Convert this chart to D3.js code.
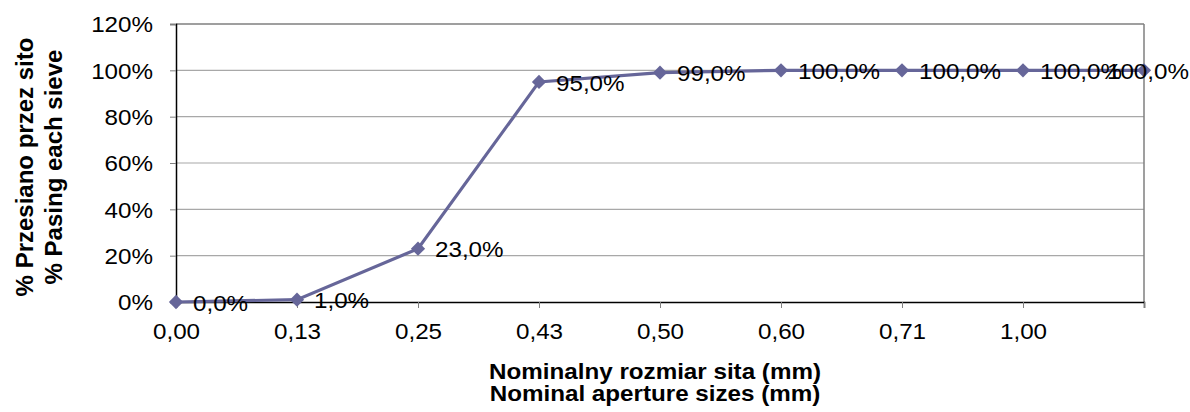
<!DOCTYPE html>
<html>
<head>
<meta charset="utf-8">
<script src="https://cdn.jsdelivr.net/npm/d3@7"></script>
<style>
  body { margin: 0; background: #fff; }
  text { font-family: "Liberation Sans", Arial, sans-serif; fill: #000; }
</style>
</head>
<body>
<div id="chart"></div>
<script>
// Sieve sizes (category labels), last one has no label
const sieveLabels = ["0,00", "0,13", "0,25", "0,43", "0,50", "0,60", "0,71", "1,00", ""];
// Percent passing each sieve
const passing = [0, 1, 23, 95, 99, 100, 100, 100, 100];
const yTicks = [0, 20, 40, 60, 80, 100, 120];

const width = 1190, height = 412;
const margin = { top: 24, right: 46, bottom: 110, left: 176 };
const plotW = width - margin.left - margin.right;
const plotH = height - margin.top - margin.bottom;
// the original picture is a little wider than tall, text looks stretched
const stretch = 1.1;

const svg = d3.select("#chart").append("svg")
  .attr("width", width)
  .attr("height", height);

const g = svg.append("g").attr("transform", `translate(${margin.left},${margin.top})`);

const idx = d3.range(sieveLabels.length);
const x = d3.scalePoint().domain(idx).range([0, plotW]);
const y = d3.scaleLinear().domain([0, 120]).range([plotH, 0]);

// gridlines
g.selectAll(".grid").data(yTicks.filter(d => d > 0 && d < 120)).enter()
  .append("line")
  .attr("x1", 0).attr("x2", plotW)
  .attr("y1", d => y(d)).attr("y2", d => y(d))
  .attr("stroke", "#a8a8a8").attr("stroke-width", 1.2);

// top and right border
g.append("line").attr("x1", 0).attr("x2", plotW).attr("y1", y(120)).attr("y2", y(120))
  .attr("stroke", "#7f7f7f").attr("stroke-width", 1.5);
g.append("line").attr("x1", plotW).attr("x2", plotW).attr("y1", 0).attr("y2", plotH)
  .attr("stroke", "#7f7f7f").attr("stroke-width", 1.5);

// y axis
const yAxis = g.append("g")
  .call(d3.axisLeft(y).tickValues(yTicks).tickSize(6).tickPadding(0).tickFormat(d => d + "%"));
yAxis.select(".domain").attr("stroke", "#000").attr("stroke-width", 1.5);
yAxis.selectAll(".tick line").attr("stroke", "#7f7f7f");
yAxis.selectAll("text")
  .attr("font-size", 22).attr("font-family", "Liberation Sans, Arial, sans-serif")
  .attr("x", 0).attr("dy", "0.35em")
  .attr("transform", `translate(-23,0) scale(${stretch},1)`);

// x axis
const xAxis = g.append("g")
  .attr("transform", `translate(0,${plotH})`)
  .call(d3.axisBottom(x).tickSize(6).tickPadding(15).tickFormat(i => sieveLabels[i]));
xAxis.select(".domain").attr("stroke", "#000").attr("stroke-width", 1.5);
xAxis.selectAll(".tick line").attr("stroke", "#7f7f7f");
xAxis.selectAll("text")
  .attr("font-size", 22).attr("font-family", "Liberation Sans, Arial, sans-serif")
  .attr("transform", `scale(${stretch},1)`);

// line
const line = d3.line().x((d, i) => x(i)).y(d => y(d));
g.append("path").datum(passing)
  .attr("d", line)
  .attr("fill", "none")
  .attr("stroke", "#666699")
  .attr("stroke-width", 3.2);

// diamond markers
g.selectAll(".mk").data(passing).enter()
  .append("path")
  .attr("d", d3.symbol().type(d3.symbolDiamond2).size(130))
  .attr("transform", (d, i) => `translate(${x(i)},${y(d)})`)
  .attr("fill", "#666699");

// data labels (the last one is pushed back inside the picture)
const last = passing.length - 1;
g.selectAll(".lbl").data(passing).enter()
  .append("text")
  .attr("x", 0)
  .attr("y", 0)
  .attr("dy", "0.35em")
  .attr("font-size", 22)
  .attr("text-anchor", (d, i) => i === last ? "end" : "start")
  .attr("transform", (d, i) => {
    const px = i === last ? width - margin.left - 1 : x(i) + 17;
    return `translate(${px},${y(d) + 1}) scale(${stretch},1)`;
  })
  .text(d => d.toFixed(1).replace(".", ",") + "%");

// x axis title
const xt = svg.append("text")
  .attr("text-anchor", "middle")
  .attr("font-size", 22)
  .attr("font-weight", "bold")
  .attr("transform", `translate(655,0) scale(${stretch},1)`);
xt.append("tspan").attr("x", 0).attr("y", 379).text("Nominalny rozmiar sita (mm)");
xt.append("tspan").attr("x", 0).attr("y", 401).text("Nominal aperture sizes (mm)");

// y axis title
const yt = svg.append("text")
  .attr("text-anchor", "middle")
  .attr("font-size", 24)
  .attr("font-weight", "bold")
  .attr("transform", "translate(0,167) rotate(-90)");
yt.append("tspan").attr("x", 0).attr("y", 33).text("% Przesiano przez sito");
yt.append("tspan").attr("x", 0).attr("y", 62).text("% Pasing each sieve");
</script>
</body>
</html>
